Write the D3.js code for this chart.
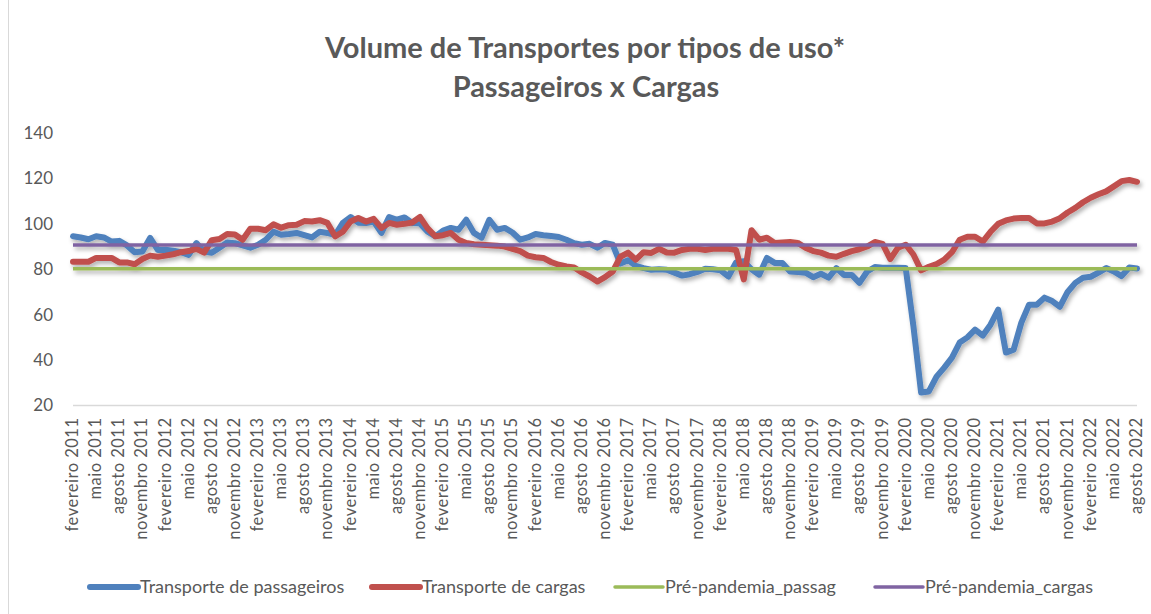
<!DOCTYPE html>
<html>
<head>
<meta charset="utf-8">
<script src="https://cdn.jsdelivr.net/npm/d3@7/dist/d3.min.js"></script>
<style>
  body { margin: 0; background: #fff; }
  text { font-family: Lato, "Open Sans", sans-serif; fill: #595959; }
</style>
</head>
<body>
<script>
// months from fevereiro 2011 to agosto 2022
var monthNames = ["janeiro", "fevereiro", "março", "abril", "maio", "junho", "julho",
  "agosto", "setembro", "outubro", "novembro", "dezembro"];
var firstYear = 2011, firstMonth = 1, nMonths = 139;

var passageiros = [
  94.5, 94, 93.2, 94.5, 94, 92.2, 92.5, 90.5, 87.5, 87.8, 93.8, 88.5,
  88.6, 88.2, 87.5, 86.3, 91.5, 87.8, 87.3, 89.5, 91.8, 91.5, 90.5, 89.5,
  90.8, 93, 96.5, 95.2, 95.5, 96, 95, 94, 96.5, 96, 95, 100.4,
  103, 100.5, 100.4, 101, 96, 103, 101.8, 102.8, 100.4, 100.2, 96.5, 94.5,
  97, 98.2, 97.4, 101.8, 96, 93.9, 101.8, 97.4, 98.2, 96.2, 93, 94,
  95.5, 95, 94.6, 94.2, 93, 91.5, 90.8, 91.2, 89.5, 91.6, 90.8, 82.5,
  84, 81.5, 80.5, 79.8, 80, 79.8, 78.5, 77.2, 77.8, 78.8, 80.2, 80,
  79.5, 76.8, 83, 83.5, 80, 77.6, 85, 82.8, 82.8, 79, 78.8, 78.5,
  76.5, 78, 76.3, 80.5, 77.5, 77.5, 74, 79, 81, 80.7, 80.7, 80.7,
  80.5, 55, 25.7, 26.2, 32.7, 36.7, 41.1, 47.7, 50, 53.4, 50.8, 55.6,
  62.2, 43.3, 44.6, 56.5, 64.4, 64.4, 67.5, 66, 63.5, 70, 74, 76.3,
  76.7, 78.5, 80.5, 79, 77, 80.8, 80.3
];

var cargas = [
  83.3, 83.3, 83.3, 85, 85, 85, 83, 83, 82.2, 84.5, 86, 85.5,
  86, 86.6, 87.5, 88, 89, 87.3, 92.8, 93.3, 95.5, 95.3, 93, 97.8,
  97.8, 97.2, 99.8, 98.3, 99.4, 99.6, 101.2, 101, 101.6, 100.4, 94.5, 96.5,
  101, 102.6, 101, 102.2, 98.2, 100.4, 99.6, 100, 100.6, 103, 98, 94.5,
  95, 96, 93, 91.6, 91, 90.8, 90.6, 90.4, 90, 89, 88, 86,
  85.3, 85, 83.2, 82, 81.2, 80.8, 78.6, 76.8, 74.6, 76.5, 79, 85.5,
  87.3, 84.2, 87.5, 87.2, 89, 87.4, 87.3, 88.5, 89, 89, 88.5, 89,
  89, 89, 88.5, 75.5, 97.2, 93, 93.9, 91.6, 91.8, 92, 91.6, 89.5,
  88, 87.3, 86, 85.5, 86.8, 88, 88.8, 90, 92, 91.2, 84.5, 89.5,
  90.8, 86.5, 79.5, 81.1, 82.3, 84.2, 87.5, 93, 94.3, 94.3, 92.2, 96.5,
  100, 101.5, 102.3, 102.6, 102.6, 100.2, 100.2, 101, 102.5, 105, 107, 109.5,
  111.5, 113, 114.3, 116.5, 118.8, 119.3, 118.5
];

var prePassag = 80.2;
var preCargas = 90.7;

var yTicks = [20, 40, 60, 80, 100, 120, 140];
var seriesNames = ["Transporte de passageiros", "Transporte de cargas", "Pré-pandemia_passag", "Pré-pandemia_cargas"];
var colors = ["#4F81BD", "#C0504D", "#9BBB59", "#8064A2"];

var categories = [];
for (var i = 0; i < nMonths; i++) {
  var mm = (firstMonth + i) % 12;
  var yy = firstYear + Math.floor((firstMonth + i) / 12);
  categories.push(monthNames[mm] + " " + yy);
}

var width = 1151, height = 614;
var plotLeft = 73, plotRight = 1137, plotTop = 133, plotBottom = 405.5;

var svg = d3.select("body").append("svg")
  .attr("width", width)
  .attr("height", height);

var defs = svg.append("defs");
var f = defs.append("filter").attr("id", "shadow")
  .attr("x", "-5%").attr("y", "-20%").attr("width", "110%").attr("height", "140%");
f.append("feDropShadow").attr("dx", 2).attr("dy", 3).attr("stdDeviation", 2)
  .attr("flood-color", "#000").attr("flood-opacity", 0.3);

// chart border
svg.append("rect")
  .attr("x", 8.5).attr("y", -2).attr("width", 1200).attr("height", 640)
  .attr("fill", "none").attr("stroke", "#D9D9D9");

var x = d3.scalePoint()
  .domain(d3.range(nMonths))
  .range([plotLeft, plotRight]);

var yScale = d3.scaleLinear()
  .domain([20, 140])
  .range([plotBottom, plotTop]);

// title
svg.append("text")
  .attr("x", 585).attr("y", 58)
  .attr("text-anchor", "middle")
  .style("font-size", "29px").style("font-weight", "bold")
  .text("Volume de Transportes por tipos de uso*");
svg.append("text")
  .attr("x", 586).attr("y", 97)
  .attr("text-anchor", "middle")
  .style("font-size", "29px").style("font-weight", "bold")
  .text("Passageiros x Cargas");

// y axis labels
svg.selectAll(".ylab")
  .data(yTicks)
  .enter().append("text")
  .attr("class", "ylab")
  .attr("x", 53)
  .attr("y", function(d) { return yScale(d); })
  .attr("dy", "0.35em")
  .attr("text-anchor", "end")
  .style("font-size", "17px")
  .text(function(d) { return d; });

// baseline axis
svg.append("line")
  .attr("x1", plotLeft).attr("x2", plotRight)
  .attr("y1", yScale(20)).attr("y2", yScale(20))
  .attr("stroke", "#D9D9D9").attr("stroke-width", 1.3);

// x labels every 3 months
svg.selectAll(".xlab")
  .data(d3.range(0, nMonths, 3))
  .enter().append("text")
  .attr("class", "xlab")
  .attr("transform", function(d) { return "translate(" + (x(d) + 5) + "," + (plotBottom + 12) + ") rotate(-90)"; })
  .attr("text-anchor", "end")
  .style("font-size", "16.5px")
  .style("letter-spacing", "0.5px")
  .text(function(d) { return categories[d]; });

var line = d3.line()
  .x(function(d, i) { return x(i); })
  .y(function(d) { return yScale(d); });

var g = svg.append("g").attr("filter", "url(#shadow)");

g.append("path")
  .datum(passageiros)
  .attr("d", line)
  .attr("fill", "none").attr("stroke", colors[0]).attr("stroke-width", 6)
  .attr("stroke-linejoin", "round").attr("stroke-linecap", "round");

g.append("path")
  .datum(cargas)
  .attr("d", line)
  .attr("fill", "none").attr("stroke", colors[1]).attr("stroke-width", 6)
  .attr("stroke-linejoin", "round").attr("stroke-linecap", "round");

g.append("line")
  .attr("x1", x(0)).attr("x2", x(nMonths - 1))
  .attr("y1", yScale(prePassag)).attr("y2", yScale(prePassag))
  .attr("stroke", colors[2]).attr("stroke-width", 3.5);

g.append("line")
  .attr("x1", x(0)).attr("x2", x(nMonths - 1))
  .attr("y1", yScale(preCargas)).attr("y2", yScale(preCargas))
  .attr("stroke", colors[3]).attr("stroke-width", 3.5);

// legend
var legendX = [90, 372, 615, 875];
var legendW = [6, 6, 3.5, 3.5];
var lg = svg.selectAll(".leg")
  .data(seriesNames)
  .enter().append("g")
  .attr("class", "leg")
  .attr("transform", function(d, i) { return "translate(" + legendX[i] + ",587)"; });
lg.append("line")
  .attr("x1", 0).attr("x2", 48).attr("y1", 0).attr("y2", 0)
  .attr("stroke", function(d, i) { return colors[i]; })
  .attr("stroke-width", function(d, i) { return legendW[i]; })
  .attr("stroke-linecap", "round");
lg.append("text")
  .attr("x", 50).attr("y", 0).attr("dy", "0.35em")
  .style("font-size", "18px")
  .text(function(d) { return d; });
</script>
</body>
</html>
